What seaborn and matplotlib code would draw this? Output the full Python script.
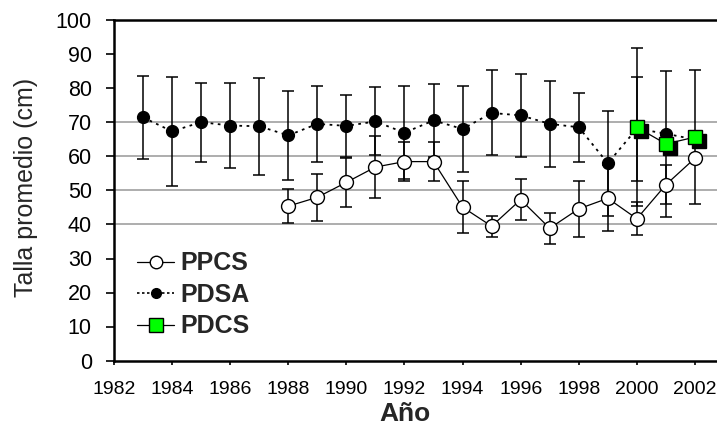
import matplotlib
matplotlib.use("Agg")
import matplotlib.pyplot as plt
import seaborn as sns
import pandas as pd
from matplotlib.lines import Line2D
from matplotlib.transforms import offset_copy

# ---- data ----
years_pdsa = [1983, 1984, 1985, 1986, 1987, 1988, 1989, 1990, 1991, 1992,
              1993, 1994, 1995, 1996, 1997, 1998, 1999, 2000, 2001, 2002]
pdsa_mean = [71.5, 67.4, 70.1, 69.1, 68.9, 66.2, 69.6, 69.0, 70.3, 67.0,
             70.6, 68.1, 72.8, 72.1, 69.6, 68.6, 58.0, 68.2, 66.7, 65.0]
pdsa_err = [12.3, 16.0, 11.6, 12.5, 14.2, 13.2, 11.2, 9.2, 10.0, 13.7,
            10.8, 12.7, 12.5, 12.3, 12.7, 10.1, 15.5, 15.3, 0.0, 0.0]

years_ppcs = [1988, 1989, 1990, 1991, 1992, 1993, 1994, 1995, 1996, 1997,
              1998, 1999, 2000, 2001, 2002]
ppcs_mean = [45.4, 48.0, 52.4, 56.9, 58.5, 58.5, 45.1, 39.5, 47.3, 38.9,
             44.6, 47.7, 41.7, 51.7, 59.5]
ppcs_err = [5.0, 6.9, 7.3, 9.0, 5.8, 5.8, 7.7, 3.1, 6.0, 4.5,
            8.2, 9.7, 4.8, 5.7, 0.0]

years_pdcs = [2000, 2001, 2002]
pdcs_mean = [68.6, 63.7, 65.7]
pdcs_err = [23.3, 21.4, 19.7]

grid_levels = [40, 50, 60, 70]
x_ticks = [1982, 1984, 1986, 1988, 1990, 1992, 1994, 1996, 1998, 2000, 2002]
y_ticks = [0, 10, 20, 30, 40, 50, 60, 70, 80, 90, 100]
series_labels = ["PPCS", "PDSA", "PDCS"]
x_label = "Año"
y_label = "Talla promedio (cm)"

# ---- style ----
sns.set_style("white")
plt.rcParams["font.family"] = ["Liberation Sans", "DejaVu Sans"]

W, H = 717, 440
fig = plt.figure(figsize=(W / 100, H / 100), dpi=100)
ax = fig.add_axes([114 / W, (H - 360.5) / H, 610 / W, 340 / H])

green = "#00ff00"

for g in grid_levels:
    ax.axhline(g, color="#a0a0a0", lw=1.2, zorder=0)

# error bars
for xs, ys, es in [(years_ppcs, ppcs_mean, ppcs_err),
                   (years_pdsa, pdsa_mean, pdsa_err),
                   (years_pdcs, pdcs_mean, pdcs_err)]:
    ax.errorbar(xs, ys, yerr=es, fmt="none", ecolor="black",
                elinewidth=1.1, capsize=4.3, capthick=1.1, zorder=2)

df_ppcs = pd.DataFrame({"year": years_ppcs, "val": ppcs_mean})
df_pdsa = pd.DataFrame({"year": years_pdsa, "val": pdsa_mean})
df_pdcs = pd.DataFrame({"year": years_pdcs, "val": pdcs_mean})

sns.lineplot(data=df_ppcs, x="year", y="val", ax=ax, color="black", lw=0.9,
             marker="o", markersize=10, markerfacecolor="white",
             markeredgecolor="black", markeredgewidth=1.0, legend=False,
             zorder=3)
sns.lineplot(data=df_pdsa, x="year", y="val", ax=ax, color="black", lw=1.3,
             linestyle=(0, (1.5, 2.5)), marker="o", markersize=8.5,
             markerfacecolor="black", markeredgecolor="black",
             markeredgewidth=1.0, legend=False, zorder=4)

# shadow of squares
shadow = offset_copy(ax.transData, fig=fig, x=4, y=-4, units="dots")
ax.plot(years_pdcs, pdcs_mean, linestyle="none", marker="s", markersize=10,
        color="black", transform=shadow, zorder=5)
sns.lineplot(data=df_pdcs, x="year", y="val", ax=ax, color="black", lw=0.9,
             marker="s", markersize=10, markerfacecolor=green,
             markeredgecolor="black", markeredgewidth=1.0, legend=False,
             zorder=6)

ax.set_xlim(1982, 2003)
ax.set_ylim(0, 100)
ax.set_xticks(x_ticks)
ax.set_yticks(y_ticks)

for side in ["left", "bottom", "top"]:
    ax.spines[side].set_visible(True)
    ax.spines[side].set_linewidth(1.8)
    ax.spines[side].set_color("black")
ax.spines["right"].set_visible(False)

ax.tick_params(axis="y", direction="out", length=6, width=1.2, pad=10,
               labelsize=15.5, left=True, colors="black")
ax.tick_params(axis="x", direction="out", length=3, width=1.2, pad=12,
               labelsize=14, bottom=True, colors="black")

ax.set_xlabel(x_label, fontsize=19, fontweight="bold")
ax.set_ylabel(y_label, fontsize=18)
ax.xaxis.set_label_coords(0.477, -0.122)
ax.yaxis.set_label_coords(-0.124, 0.51)

handles = [
    Line2D([], [], color="black", lw=0.9, marker="o", markersize=9,
           markerfacecolor="white", markeredgecolor="black"),
    Line2D([], [], color="black", lw=1.2, linestyle=(0, (1.5, 1.5)),
           marker="o", markersize=7, markerfacecolor="black",
           markeredgecolor="black"),
    Line2D([], [], color="black", lw=0.9, marker="s", markersize=10,
           markerfacecolor=green, markeredgecolor="black"),
]
ax.legend(handles, series_labels, loc="center left",
          bbox_to_anchor=(0.0377, 0.193), frameon=False, borderpad=0,
          borderaxespad=0, handlelength=1.5, handletextpad=0.25,
          labelspacing=0.3, prop={"weight": "bold", "size": 18})

fig.savefig("out.png", dpi=100)
